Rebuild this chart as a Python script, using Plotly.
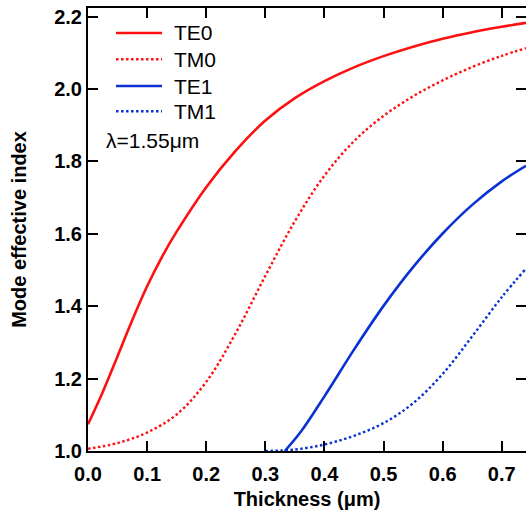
import plotly.graph_objects as go

# Mode effective index vs. waveguide thickness at 1.55 um
te0_t = [0.0, 0.025, 0.05, 0.075, 0.1, 0.125, 0.15, 0.2, 0.25, 0.3, 0.35, 0.4,
         0.45, 0.5, 0.55, 0.6, 0.65, 0.7, 0.741]
te0_n = [1.074, 1.163, 1.262, 1.362, 1.455, 1.536, 1.606, 1.729, 1.830, 1.913,
         1.975, 2.022, 2.060, 2.091, 2.117, 2.139, 2.157, 2.172, 2.183]

tm0_t = [0.0, 0.05, 0.1, 0.15, 0.2, 0.25, 0.3, 0.35, 0.4, 0.45, 0.5, 0.55, 0.6,
         0.65, 0.7, 0.741]
tm0_n = [1.006, 1.022, 1.051, 1.101, 1.191, 1.326, 1.484, 1.635, 1.761, 1.856,
         1.926, 1.980, 2.024, 2.061, 2.092, 2.113]

te1_t = [0.333, 0.36, 0.4, 0.45, 0.5, 0.55, 0.6, 0.65, 0.7, 0.741]
te1_n = [1.0, 1.053, 1.151, 1.280, 1.401, 1.508, 1.601, 1.680, 1.745, 1.788]

tm1_t = [0.3, 0.35, 0.4, 0.45, 0.5, 0.55, 0.6, 0.65, 0.7, 0.741]
tm1_n = [1.0, 1.004, 1.018, 1.042, 1.077, 1.132, 1.213, 1.317, 1.425, 1.504]

x_ticks = [0.0, 0.1, 0.2, 0.3, 0.4, 0.5, 0.6, 0.7]
y_ticks = [1.0, 1.2, 1.4, 1.6, 1.8, 2.0, 2.2]

RED = "#ff1010"
BLUE = "#0a32d2"
DOT = "2.5px,2.5px"

modes = [
    ("TE0", te0_t, te0_n, RED, "solid"),
    ("TM0", tm0_t, tm0_n, RED, DOT),
    ("TE1", te1_t, te1_n, BLUE, "solid"),
    ("TM1", tm1_t, tm1_n, BLUE, DOT),
]

fig = go.Figure()
for name, t, n, color, dash in modes:
    fig.add_trace(go.Scatter(
        x=t, y=n, mode="lines", name=name, showlegend=False,
        line=dict(color=color, width=2.6 if dash == "solid" else 2.4,
                  dash=dash, shape="spline", smoothing=1.0),
    ))

# right-hand tick marks without a visible frame line
fig.add_trace(go.Scatter(x=[], y=[], yaxis="y2", showlegend=False, hoverinfo="skip"))

tick_font = dict(family="Liberation Sans", size=20, color="black", weight="bold")
title_font = dict(family="Liberation Sans", size=20, color="black", weight="bold")

fig.update_layout(
    width=526, height=513,
    margin=dict(l=88, r=0, t=8, b=62),
    paper_bgcolor="white", plot_bgcolor="white",
    xaxis=dict(
        range=[0, 0.741], tickvals=x_ticks, tickformat=".1f",
        ticks="inside", ticklen=10, tickwidth=2, tickcolor="black",
        showline=True, linewidth=2, linecolor="black", mirror="ticks",
        showgrid=False, zeroline=False, tickfont=tick_font,
        ticklabelstandoff=4,
        title=dict(text="Thickness (μm)", font=title_font, standoff=8),
    ),
    yaxis=dict(
        range=[1.0, 2.224], tickvals=y_ticks, tickformat=".1f",
        ticks="inside", ticklen=10, tickwidth=2, tickcolor="black",
        showline=True, linewidth=2, linecolor="black",
        showgrid=False, zeroline=False, tickfont=tick_font,
        title=dict(text="Mode effective index", font=title_font, standoff=22),
    ),
    yaxis2=dict(
        overlaying="y", side="right", anchor="x", range=[1.0, 2.224],
        tickvals=y_ticks, ticks="inside", ticklen=10, tickwidth=2,
        tickcolor="black", showline=False, showgrid=False, zeroline=False,
        showticklabels=False,
    ),
)

# legend drawn inside the axes
legend_font = dict(family="Liberation Sans", size=21, color="black")
legend_rows = [0.9436, 0.8842, 0.8239, 0.7668]
for (name, _, _, color, dash), yy in zip(modes, legend_rows):
    fig.add_shape(type="line", xref="paper", yref="paper",
                  x0=0.064, x1=0.169, y0=yy, y1=yy,
                  line=dict(color=color, width=2.6 if dash == "solid" else 2.4, dash=dash))
    fig.add_annotation(xref="paper", yref="paper", x=0.192, y=yy, text=name,
                       showarrow=False, xanchor="left", yanchor="middle",
                       font=legend_font)

fig.add_annotation(xref="paper", yref="paper", x=0.0365, y=0.6998, text="λ=1.55μm",
                   showarrow=False, xanchor="left", yanchor="middle", font=legend_font)

fig.write_html("out.html")
